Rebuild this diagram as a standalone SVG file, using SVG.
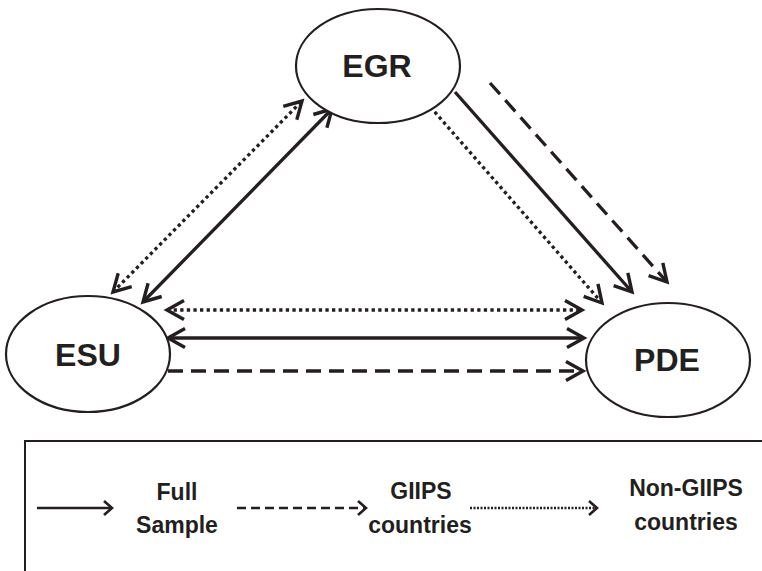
<svg xmlns="http://www.w3.org/2000/svg" width="762" height="571" viewBox="0 0 762 571">
<style>
.node ellipse{fill:#fff;stroke:#231f20;stroke-width:2.2}
.node text{font-family:"Liberation Sans",Arial,sans-serif;font-weight:bold;font-size:32px;fill:#231f20;text-anchor:middle}
.c{fill:none;stroke:#231f20;stroke-width:3.3}
.solid{}
.dash{stroke-dasharray:15 8}
.dot{stroke-dasharray:3.3 3.3}
.lg{fill:none;stroke:#231f20;stroke-width:2.7}
.lt{font-family:"Liberation Sans",Arial,sans-serif;font-weight:bold;font-size:23px;fill:#231f20;text-anchor:middle}
</style>
<defs>
<marker id="ah" markerUnits="userSpaceOnUse" markerWidth="40" markerHeight="40" refX="0" refY="0" viewBox="-20 -20 40 40" orient="auto-start-reverse" overflow="visible">
<path d="M-17,-9.5 L0,0 L-17,9.5" fill="none" stroke="#231f20" stroke-width="3.4" stroke-linejoin="miter"/>
</marker>
<marker id="ahs" markerUnits="userSpaceOnUse" markerWidth="30" markerHeight="30" refX="0" refY="0" viewBox="-15 -15 30 30" orient="auto" overflow="visible">
<path d="M-8,-7 L0,0 L-8,7" fill="none" stroke="#231f20" stroke-width="2.6"/>
</marker>
</defs>

<g id="connectors">
<line class="c solid" x1="143" y1="302" x2="332" y2="109" marker-start="url(#ah)" marker-end="url(#ah)"/>
<line class="c dot" x1="113" y1="292" x2="302" y2="101" marker-start="url(#ah)" marker-end="url(#ah)"/>
<line class="c solid" x1="455" y1="92" x2="632" y2="292" marker-end="url(#ah)"/>
<line class="c dash" x1="490" y1="83" x2="667" y2="282" marker-end="url(#ah)"/>
<line class="c dot" x1="426" y1="102" x2="602" y2="303" marker-end="url(#ah)"/>
<line class="c dot" x1="167" y1="310" x2="582" y2="310" marker-start="url(#ah)" marker-end="url(#ah)"/>
<line class="c solid" x1="168" y1="338" x2="584" y2="338" marker-start="url(#ah)" marker-end="url(#ah)"/>
<line class="c dash" x1="168" y1="371" x2="583" y2="371" marker-end="url(#ah)"/>
</g>

<g id="EGR" class="node">
<ellipse cx="378" cy="66" rx="82" ry="57"/>
<text x="377" y="77">EGR</text>
</g>
<g id="ESU" class="node">
<ellipse cx="88" cy="354" rx="82" ry="58"/>
<text x="88" y="366">ESU</text>
</g>
<g id="PDE" class="node">
<ellipse cx="668" cy="360" rx="82" ry="57"/>
<text x="667" y="371">PDE</text>
</g>

<g id="legend">
<path d="M25,571 L25,441 L764,441" fill="none" stroke="#231f20" stroke-width="2"/>
<line class="lg" x1="37" y1="508" x2="112" y2="508" marker-end="url(#ahs)"/>
<text class="lt" x="177" y="500">Full</text>
<text class="lt" x="177" y="533">Sample</text>
<line class="lg" x1="237" y1="508" x2="366" y2="508" stroke-dasharray="9 5" marker-end="url(#ahs)"/>
<text class="lt" x="421" y="499">GIIPS</text>
<text class="lt" x="420" y="533">countries</text>
<line class="lg" x1="470" y1="508" x2="597" y2="508" stroke-dasharray="2 1.5" marker-end="url(#ahs)"/>
<text class="lt" x="686" y="496">Non-GIIPS</text>
<text class="lt" x="686" y="530">countries</text>
</g>
</svg>
